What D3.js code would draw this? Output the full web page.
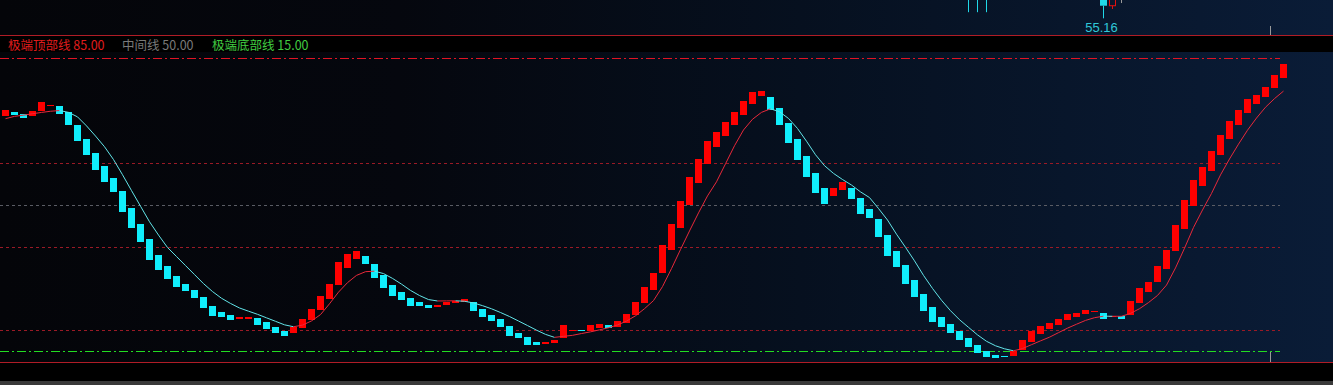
<!DOCTYPE html>
<html><head><meta charset="utf-8">
<script src="https://cdn.jsdelivr.net/npm/d3@7"></script>
<style>html,body{margin:0;padding:0;background:#000;overflow:hidden}</style>
</head><body><svg id="c" width="1333" height="385"></svg>
<script>
// ---- data ----
const oscOpen = [71.24,72.20,71.72,71.24,72.44,73.63,73.47,72.20,69.09,65.74,
62.39,59.27,56.40,53.36,49.29,45.39,41.80,37.97,35.34,32.95,
31.03,29.60,27.92,25.77,24.41,23.62,22.90,22.92,22.97,21.94,
20.74,19.86,19.31,20.58,22.42,24.81,27.44,30.87,34.86,37.02,
37.74,35.82,33.19,30.80,29.12,27.68,26.73,26.01,25.53,26.01,
26.56,26.80,26.73,25.05,23.78,22.66,20.98,19.31,18.35,17.15,
16.68,16.99,18.18,19.91,20.15,19.86,20.67,21.29,20.82,21.87,
23.62,26.56,29.60,33.74,39.17,44.51,49.94,55.13,59.75,63.82,
66.45,69.09,71.48,74.11,76.03,75.79,73.15,69.56,65.74,61.67,
57.60,54.01,52.09,53.53,54.01,51.62,48.98,46.59,42.76,38.93,
35.51,31.99,28.64,25.53,23.14,21.46,19.79,18.11,16.44,15.00,
14.04,13.92,13.80,15.36,17.15,19.07,20.27,21.22,22.42,23.14,
23.85,24.45,24.09,23.26,23.38,23.62,26.49,29.12,31.51,34.62,
38.93,44.20,49.70,54.49,58.08,61.91,65.74,69.09,71.96,74.11,
75.79,77.94,80.33];
const oscClose = [72.68,71.48,70.59,72.44,74.59,73.87,71.72,69.09,65.09,61.74,
58.32,55.52,53.12,48.34,44.51,41.16,36.78,34.38,32.23,30.39,
29.36,27.68,25.36,23.38,23.21,22.42,23.14,23.12,21.22,20.27,
19.31,18.66,20.74,22.66,25.12,28.16,31.03,36.30,38.21,38.93,
35.82,32.47,30.08,28.23,27.21,25.84,25.77,25.29,26.01,26.73,
27.04,27.44,24.64,23.21,22.25,20.82,18.66,18.18,16.60,16.51,
17.15,17.63,21.22,20.15,19.91,21.22,21.46,20.67,22.25,23.85,
26.73,30.39,33.74,40.44,45.39,50.90,56.64,60.95,65.26,67.41,
69.80,72.13,74.76,76.98,77.22,72.68,69.09,64.78,60.71,56.64,
52.81,50.18,54.01,55.45,51.38,47.86,46.90,42.35,37.81,35.17,
31.11,27.92,24.64,22.01,20.82,19.31,17.63,15.96,14.52,13.56,
13.32,13.56,15.00,17.63,19.79,20.98,21.70,22.66,23.85,24.09,
24.81,24.69,22.66,23.50,22.66,26.97,30.08,31.51,35.34,39.17,
45.15,51.14,55.92,59.03,62.86,66.69,70.04,72.68,75.31,76.27,
78.18,81.05,83.45];
const trendLine = [70.52,71.07,71.36,71.70,72.01,72.29,72.46,72.03,70.95,68.80,
66.38,63.82,60.76,57.14,53.36,49.63,45.92,42.74,39.77,37.62,
35.46,33.31,31.15,29.26,27.66,26.42,25.34,24.57,23.83,22.99,
22.16,21.32,20.86,21.25,22.25,23.76,26.34,29.12,31.39,33.12,
34.00,34.12,33.55,32.40,31.03,29.53,28.31,27.35,27.01,27.03,
27.06,26.94,26.54,25.89,25.15,24.26,23.30,22.23,21.15,20.05,
19.04,18.33,18.57,18.81,19.24,19.64,20.12,20.62,21.29,22.20,
23.47,25.17,27.10,30.44,34.74,39.29,43.72,48.03,52.09,55.45,
59.75,64.06,67.82,70.38,72.03,72.87,72.17,70.57,68.18,65.14,
61.91,59.30,57.46,56.00,54.68,53.05,51.69,49.08,46.33,42.95,
39.82,36.59,33.12,30.01,27.18,24.69,22.54,20.72,18.92,17.39,
16.32,15.60,15.12,15.65,16.58,17.49,18.37,19.45,20.53,21.46,
22.37,23.02,23.38,23.36,23.36,24.05,25.17,26.63,28.33,30.80,
34.90,39.60,44.56,48.72,52.67,57.10,60.90,64.44,67.77,70.67,
73.25,75.31,77.10];

const levelValues = [85, 60, 50, 40, 20, 15];
const levelColors = ["#e01424", "#9a1a26", "#5a5c64", "#9a1a26", "#9a1a26", "#22dc22"];
const levelDashes = ["9,3,2,3", "3,3", "3,3", "3,3", "3,3", "9,3,2,3"];
const legendLabels = ["极端顶部线", "中间线", "极端底部线"];
const legendValues = [85, 50, 15];

// fragments of the upper (price) panel visible at the top edge
const upperIdx   = [107, 108, 109, 122, 123, 124];
const upperOpen  = [55.70, 55.70, 55.70, 55.60, 55.325, 55.60];
const upperClose = [55.50, 55.50, 55.50, 55.325, 55.60, 55.60];
const upperLow   = [55.24, 55.24, 55.24, 55.16, 55.282, 55.36];
const upperLowLabel = "55.16";
const cursorIndex = 141;

// ---- layout ----
const W = 1333, H = 385;
const svg = d3.select("#c");
const n = oscOpen.length;

const x = d3.scaleBand().domain(d3.range(n)).range([2, 1287]).paddingInner(2/9).paddingOuter(0);
const cx = i => x(i) + x.bandwidth() / 2;
const y = d3.scaleLinear().domain([15, 85]).range([351.3, 58]);
const yP = d3.scaleLinear().domain([55.16, 55.40]).range([18.3, 0]);

const defs = svg.append("defs");
const g = defs.append("linearGradient").attr("id", "bg").attr("x1", 0).attr("x2", 1).attr("y1", 0).attr("y2", 0);
[[0, "#040509"], [0.3, "#05070e"], [0.6, "#06101f"], [1, "#0a1c37"]].forEach(([o, c]) =>
  g.append("stop").attr("offset", o).attr("stop-color", c));
defs.append("clipPath").attr("id", "upClip").append("rect").attr("x", 0).attr("y", 0).attr("width", W).attr("height", 34.5);
defs.append("clipPath").attr("id", "plotClip").append("rect").attr("x", 0).attr("y", 52).attr("width", W).attr("height", 310);

svg.append("rect").attr("width", W).attr("height", H).attr("fill", "url(#bg)");
svg.append("rect").attr("x", 0).attr("y", 35).attr("width", W).attr("height", 17).attr("fill", "#000");
svg.append("rect").attr("x", 0).attr("y", 362).attr("width", W).attr("height", 19).attr("fill", "#000");
svg.append("rect").attr("x", 0).attr("y", 381).attr("width", W).attr("height", 4).attr("fill", "#3a3a3a");

[35, 362].forEach(v => svg.append("line").attr("x1", 0).attr("x2", W).attr("y1", v + 0.5).attr("y2", v + 0.5)
  .attr("stroke", "#b01c26").attr("stroke-width", 1).attr("shape-rendering", "crispEdges"));

// upper panel fragments
const up = svg.append("g").attr("clip-path", "url(#upClip)");
upperIdx.forEach((idx, k) => {
  const o = upperOpen[k], c = upperClose[k];
  const col = c > o ? "#e01010" : (c < o ? "#20d8e8" : "#9a9a9a");
  const top = Math.min(yP(o), yP(c)), bot = Math.max(yP(o), yP(c));
  const xc = Math.round(cx(idx)) - 0.5;
  up.append("line").attr("x1", xc).attr("x2", xc).attr("y1", bot).attr("y2", yP(upperLow[k])).attr("stroke", col);
  if (c > o) {
    up.append("rect").attr("x", x(idx) + 0.5).attr("y", top - 20).attr("width", x.bandwidth() - 1).attr("height", bot - top + 20)
      .attr("fill", "none").attr("stroke", col);
  } else if (c < o) {
    up.append("rect").attr("x", x(idx)).attr("y", top - 20).attr("width", x.bandwidth()).attr("height", bot - top + 20).attr("fill", col);
  }
});
svg.append("text").attr("x", cx(122) - 2).attr("y", 31.5).attr("text-anchor", "middle")
  .attr("font-family", "Liberation Sans, Arial, sans-serif").attr("font-size", 13).attr("fill", "#30c8d8").text(upperLowLabel);

// cursor ticks
const xCur = x(cursorIndex) - 0.5;
svg.append("line").attr("x1", xCur).attr("x2", xCur).attr("y1", 26).attr("y2", 35).attr("stroke", "#9a9a9a");
svg.append("line").attr("x1", xCur).attr("x2", xCur).attr("y1", 352).attr("y2", 362).attr("stroke", "#9a9a9a");

// legend
const legendColors = ["#e01c1c", "#7a7a7a", "#40cc40"];
const legendX = [8, 122, 212];
legendLabels.forEach((lab, k) => {
  svg.append("text").attr("x", legendX[k]).attr("y", 49.5)
    .attr("font-family", "Noto Sans CJK SC, sans-serif").attr("font-size", 12.5).attr("fill", legendColors[k])
    .text(lab + " " + d3.format(".2f")(legendValues[k]));
});

// reference levels
const xEnd = x(n - 1);
levelValues.forEach((v, k) => {
  const yy = Math.round(y(v)) + 0.5;
  svg.append("line").attr("x1", 0).attr("x2", xEnd).attr("y1", yy).attr("y2", yy)
    .attr("stroke", levelColors[k]).attr("stroke-dasharray", levelDashes[k]).attr("stroke-width", 1)
    .attr("shape-rendering", "crispEdges");
});

// bars
const plot = svg.append("g").attr("clip-path", "url(#plotClip)");
plot.selectAll("rect.bar").data(d3.range(n)).join("rect").attr("class", "bar")
  .attr("x", i => x(i))
  .attr("width", x.bandwidth())
  .attr("y", i => y(Math.max(oscOpen[i], oscClose[i])))
  .attr("height", i => Math.max(1.5, Math.abs(y(oscOpen[i]) - y(oscClose[i]))))
  .attr("fill", i => oscClose[i] >= oscOpen[i] ? "#ff0000" : "#10eefc")
  .attr("shape-rendering", "crispEdges");

// trend line, coloured by direction
const line = d3.line().x(d => cx(d)).y(d => y(trendLine[d]));
for (let i = 1; i < n; i++) {
  plot.append("path").attr("d", line([i - 1, i])).attr("fill", "none")
    .attr("stroke", trendLine[i] >= trendLine[i - 1] ? "#e8283a" : "#62e4e8").attr("stroke-width", 1);
}
</script></body></html>
